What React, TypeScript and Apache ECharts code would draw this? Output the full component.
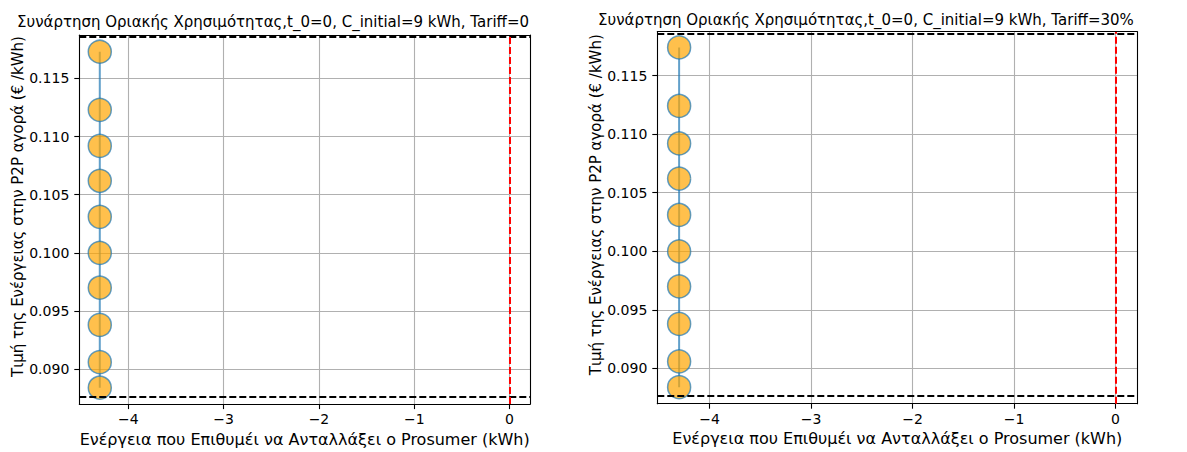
import React, { useEffect, useRef } from "react";
import * as echarts from "echarts";

// ---- data ----
const energyLeft = [-4.3, -4.3, -4.3, -4.3, -4.3, -4.3, -4.3, -4.3, -4.3, -4.3];
const priceLeft = [0.1173, 0.1123, 0.1092, 0.1062, 0.1031, 0.1, 0.097, 0.0938, 0.0906, 0.0884];
const energyRight = [-4.3, -4.3, -4.3, -4.3, -4.3, -4.3, -4.3, -4.3, -4.3, -4.3];
const priceRight = [0.1174, 0.1124, 0.1092, 0.1062, 0.1031, 0.1, 0.097, 0.0938, 0.0906, 0.0884];
const xTicks = [-4, -3, -2, -1, 0];
const yTicks = [0.09, 0.095, 0.1, 0.105, 0.11, 0.115];
const hLinesLeft = [0.11855, 0.08766];
const hLinesRight = [0.11857, 0.08769];
const vLineX = 0;
const xRange = [-4.515, 0.215];
const yRange = [0.08699, 0.11874];
const titles = [
  "Συνάρτηση Οριακής Χρησιμότητας,t_0=0, C_initial=9 kWh, Tariff=0",
  "Συνάρτηση Οριακής Χρησιμότητας,t_0=0, C_initial=9 kWh, Tariff=30%",
];
const xName = "Ενέργεια που Επιθυμέι να Ανταλλάξει ο Prosumer (kWh)";
const yName = "Τιμή της Ενέργειας στην P2P αγορά (€ /kWh)";

const FONT = "DejaVu Sans";

const grids = [
  { left: 79.3, top: 35, width: 450.7, height: 373.7 },
  { left: 657.3, top: 31.7, width: 480, height: 372 },
];

function fmtX(v: number) {
  const r = Math.round(v);
  return r < 0 ? "\u2212" + Math.abs(r) : String(r);
}

function mainX(gridIndex: number) {
  return {
    type: "value",
    gridIndex,
    min: xRange[0],
    max: xRange[1],
    position: "bottom",
    name: xName,
    nameLocation: "middle",
    nameGap: 25,
    nameTextStyle: { fontFamily: FONT, fontSize: 16, color: "#000" },
    axisLine: { show: true, onZero: false, lineStyle: { color: "#000", width: 1.1 } },
    axisTick: { show: true, customValues: xTicks, length: 5, lineStyle: { color: "#000", width: 1.1 } },
    axisLabel: {
      customValues: xTicks,
      formatter: fmtX,
      margin: 8,
      fontFamily: FONT,
      fontSize: 14,
      color: "#000",
    },
    splitLine: { show: true, lineStyle: { color: "#b0b0b0", width: 1.1 } },
  };
}

function frameX(gridIndex: number) {
  return {
    type: "value",
    gridIndex,
    min: xRange[0],
    max: xRange[1],
    position: "top",
    z: 5,
    axisLine: { show: true, onZero: false, lineStyle: { color: "#000", width: 1.1 } },
    axisTick: { show: false },
    axisLabel: { show: false },
    splitLine: { show: false },
  };
}

function mainY(gridIndex: number) {
  return {
    type: "value",
    gridIndex,
    min: yRange[0],
    max: yRange[1],
    position: "left",
    name: yName,
    nameLocation: "middle",
    nameGap: 52,
    nameTextStyle: { fontFamily: FONT, fontSize: 15, color: "#000", padding: [0, 0, 0, 26] },
    axisLine: { show: true, onZero: false, lineStyle: { color: "#000", width: 1.1 } },
    axisTick: { show: true, customValues: yTicks, length: 5, lineStyle: { color: "#000", width: 1.1 } },
    axisLabel: {
      customValues: yTicks,
      formatter: (v: number) => v.toFixed(3),
      margin: 10,
      fontFamily: FONT,
      fontSize: 14,
      color: "#000",
    },
    splitLine: { show: true, lineStyle: { color: "#b0b0b0", width: 1.1 } },
  };
}

function frameY(gridIndex: number) {
  return {
    type: "value",
    gridIndex,
    min: yRange[0],
    max: yRange[1],
    position: "right",
    z: 5,
    axisLine: { show: true, onZero: false, lineStyle: { color: "#000", width: 1.1 } },
    axisTick: { show: false },
    axisLabel: { show: false },
    splitLine: { show: false },
  };
}

function makeSeries(xs: number[], ys: number[], hLines: number[], axisIdx: number) {
  const dash = [7, 3];
  return {
    type: "line",
    xAxisIndex: axisIdx,
    yAxisIndex: axisIdx,
    data: xs.map((x, i) => [x, ys[i]]),
    symbol: "circle",
    symbolSize: 23,
    z: 3,
    lineStyle: { color: "#1f77b4", width: 2, opacity: 0.7 },
    itemStyle: { color: "#FFA500", borderColor: "#1f77b4", borderWidth: 1.5, opacity: 0.7 },
    emphasis: { disabled: true },
    markLine: {
      silent: true,
      symbol: "none",
      precision: 6,
      label: { show: false },
      emphasis: { disabled: true },
      data: [
        { yAxis: hLines[0], lineStyle: { color: "#000", type: dash, width: 2, opacity: 1 } },
        { yAxis: hLines[1], lineStyle: { color: "#000", type: dash, width: 2, opacity: 1 } },
        { xAxis: vLineX, lineStyle: { color: "#ff0000", type: dash, width: 2, opacity: 1 } },
      ],
    },
  };
}

export default function App() {
  const ref = useRef<HTMLDivElement>(null);
  useEffect(() => {
    if (!ref.current) return;
    const chart = echarts.init(ref.current, null, { renderer: "svg" });
    chart.setOption({
      animation: false,
      backgroundColor: "#fff",
      title: [
        {
          text: titles[0],
          left: 12,
          top: 9,
          textStyle: { fontFamily: FONT, fontSize: 15, fontWeight: "normal", color: "#000" },
        },
        {
          text: titles[1],
          left: 593,
          top: 7,
          textStyle: { fontFamily: FONT, fontSize: 15, fontWeight: "normal", color: "#000" },
        },
      ],
      grid: grids.map((g) => ({ ...g, containLabel: false })),
      xAxis: [mainX(0), frameX(0), mainX(1), frameX(1)],
      yAxis: [mainY(0), frameY(0), mainY(1), frameY(1)],
      series: [
        makeSeries(energyLeft, priceLeft, hLinesLeft, 0),
        makeSeries(energyRight, priceRight, hLinesRight, 2),
      ],
    });
    return () => chart.dispose();
  }, []);
  return (
    <div
      ref={ref}
      style={{ position: "absolute", left: 0, top: 0, width: 1187, height: 452, background: "#fff" }}
    />
  );
}
